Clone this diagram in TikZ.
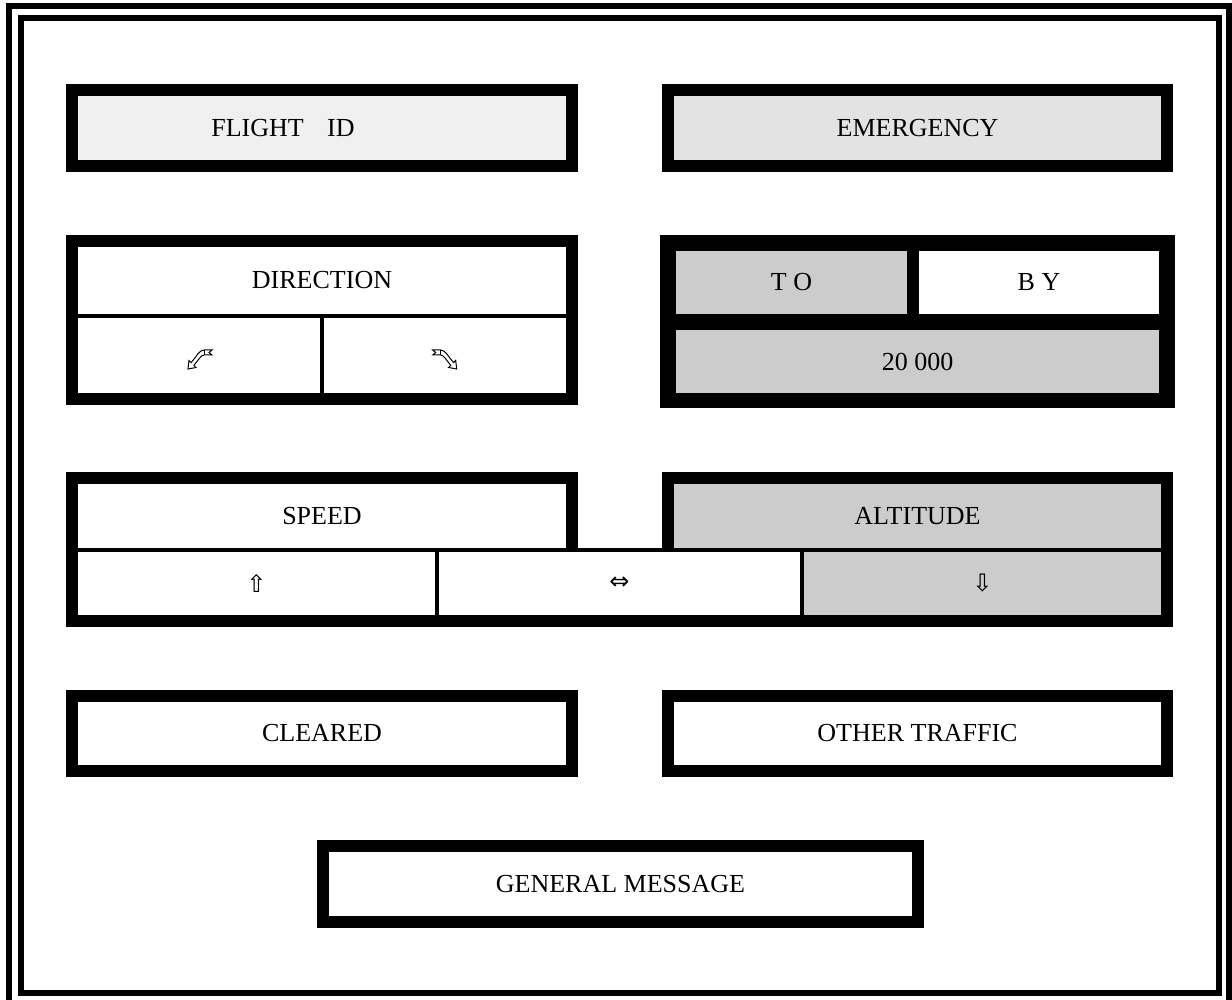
\documentclass[tikz,border=0pt]{standalone}
\usepackage{fontspec}
\setmainfont{Liberation Serif}
\newfontfamily\symfont{DejaVu Sans}
\begin{document}
\begin{tikzpicture}[x=1pt,y=-1pt,
  cellbox/.style={rectangle, draw=none, inner sep=0pt, font=\fontsize{26}{30}\selectfont},
  lbl/.style={inner sep=0pt, font=\fontsize{26}{30}\selectfont},
  sym/.style={inner sep=0pt, font=\symfont\fontsize{24}{28}\selectfont},
  frameline/.style={draw=black, line width=6pt},
  blk/.style={fill=black},
  turnglyph/.pic={
    \draw[line width=1pt, fill=white, line join=miter]
      (-8.9,3.1) .. controls (-4,-2) and (-1,-9.5) .. (4,-9.5) -- (12,-9.5) -- (9,-7) -- (12,-4.5) -- (4,-4.5)
      .. controls (1,-4.5) and (-2,1) .. (-6.1,5.9) -- (-4,8) -- (-12,9.5) -- (-11,1) -- cycle;
    \draw[line width=1pt] (4,-9.5) -- (4,-4.5);
  }
]
\definecolor{idfill}{RGB}{240,240,240}
\definecolor{emfill}{RGB}{227,227,227}
\definecolor{gcell}{RGB}{204,204,204}
\useasboundingbox (0,0) rectangle (1232,1000);
\fill[white] (0,0) rectangle (1232,1000);
% double frame
\draw[frameline] (9,6) rectangle (1229,1003);
\draw[frameline] (21,18) rectangle (1219,993);

% FLIGHT ID
\fill[blk] (66,84) rectangle (578,172);
\node[cellbox, fill=idfill, minimum width=488pt, minimum height=64pt] (fidcell) at (322,128) {};
\node[lbl] (fid) at (283,128) {FLIGHT\hspace{0.9em}ID};

% EMERGENCY
\fill[blk] (662,84) rectangle (1173,172);
\node[cellbox, fill=emfill, minimum width=487pt, minimum height=64pt] (emer) at (917.5,128) {EMERGENCY};

% DIRECTION
\fill[blk] (66,235) rectangle (578,405);
\node[cellbox, fill=white, minimum width=488pt, minimum height=67pt] (dir) at (322,280.5) {DIRECTION};
\node[cellbox, fill=white, minimum width=242pt, minimum height=75pt] (dleft) at (199,355.5) {};
\node[cellbox, fill=white, minimum width=242pt, minimum height=75pt] (dright) at (445,355.5) {};
\pic at (200,359.5) {turnglyph};
\pic[xscale=-1] at (444.7,359.5) {turnglyph};

% TO / BY
\fill[blk] (660,235) rectangle (1175,408);
\node[cellbox, fill=gcell, minimum width=231pt, minimum height=63pt] (to) at (791.5,282.5) {T O};
\node[cellbox, fill=white, minimum width=240pt, minimum height=63pt] (by) at (1039,282.5) {B Y};
\node[cellbox, fill=gcell, minimum width=483pt, minimum height=63pt] (alt) at (917.5,361.5) {20 000};

% SPEED / ALTITUDE
\fill[blk] (66,472) rectangle (578,627);
\fill[blk] (662,472) rectangle (1173,627);
\fill[blk] (66,548) rectangle (1173,627);
\node[cellbox, fill=white, minimum width=488pt, minimum height=64pt] (speed) at (322,516) {SPEED};
\node[cellbox, fill=gcell, minimum width=487pt, minimum height=64pt] (altitude) at (917.5,516) {ALTITUDE};
\node[cellbox, fill=white, minimum width=357pt, minimum height=63pt] (upcell) at (256.5,583.5) {};
\node[cellbox, fill=white, minimum width=361pt, minimum height=63pt] (lrcell) at (619.5,583.5) {};
\node[cellbox, fill=gcell, minimum width=357pt, minimum height=63pt] (downcell) at (982.5,583.5) {};
\node[sym] (up) at (upcell) {⇧};
\node[sym] (lr) at (lrcell) {⇔};
\node[sym] (down) at (downcell) {⇩};

% CLEARED / OTHER TRAFFIC
\fill[blk] (66,690) rectangle (578,777);
\node[cellbox, fill=white, minimum width=488pt, minimum height=63pt] (cleared) at (322,733.5) {CLEARED};
\fill[blk] (662,690) rectangle (1173,777);
\node[cellbox, fill=white, minimum width=487pt, minimum height=63pt] (traffic) at (917.5,733.5) {OTHER TRAFFIC};

% GENERAL MESSAGE
\fill[blk] (317,840) rectangle (924,928);
\node[cellbox, fill=white, minimum width=583pt, minimum height=64pt] (gm) at (620.5,884) {GENERAL MESSAGE};
\end{tikzpicture}
\end{document}
